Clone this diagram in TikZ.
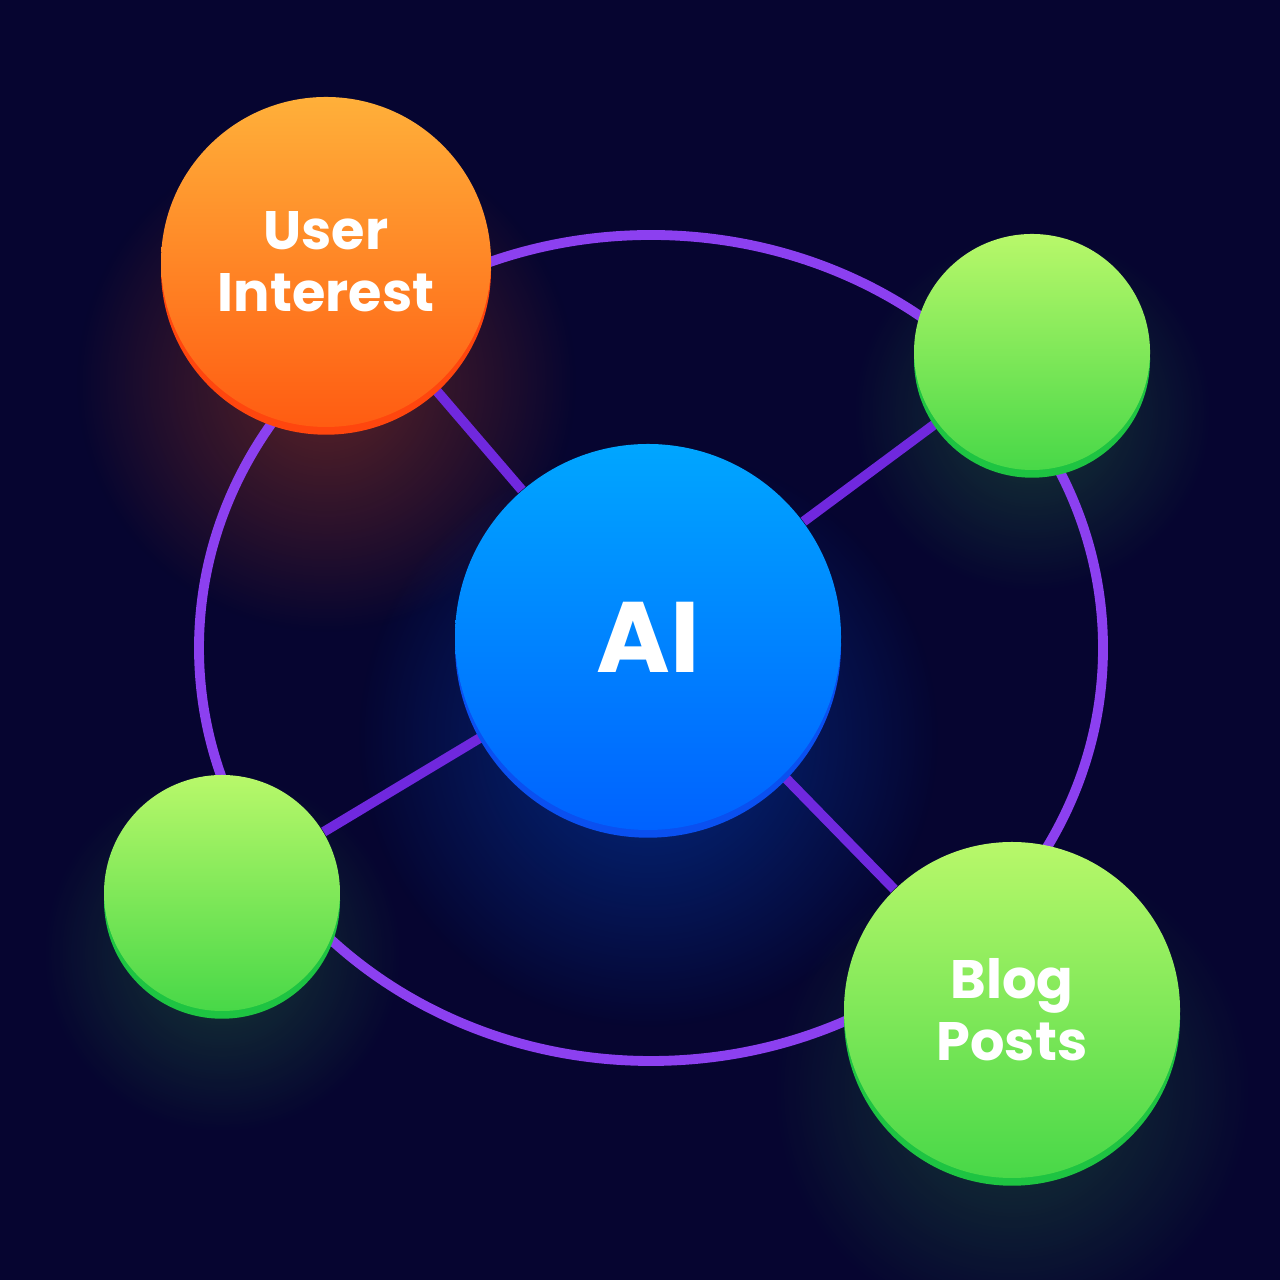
\documentclass[tikz,border=0pt]{standalone}
\usepackage{fontspec}
\setmainfont{Poppins}
\usetikzlibrary{fadings}
\tikzfading[name=softglow, inner color=transparent!0, outer color=transparent!100]
\pgfdeclarelayer{back}
\pgfdeclarelayer{links}
\pgfsetlayers{back,links,main}

\begin{document}
\begin{tikzpicture}[
    line cap=round,
    every node/.style={text=white, align=center},
    disc/.style 2 args={circle, inner sep=0pt, minimum size=#1,
        top color=#2top, bottom color=#2bot,
        preaction={fill=#2rim, transform canvas={yshift=-2.2pt}}},
    glow/.style={fill=#1, path fading=softglow, fill opacity=0.4},
    link/.style={draw=linkcol, line width=2.8pt},
    bigtext/.style={font=\fontsize{28.5}{28.5}\selectfont\bfseries},
    smalltext/.style={font=\fontsize{15.4}{17.6}\selectfont\bfseries},
]

\definecolor{bgcol}{RGB}{6,5,48}
\definecolor{ringcol}{RGB}{140,64,240}
\definecolor{linkcol}{RGB}{112,40,222}
\definecolor{AItop}{RGB}{0,166,255}
\definecolor{AIbot}{RGB}{0,98,255}
\definecolor{AIrim}{RGB}{10,80,240}
\definecolor{UItop}{RGB}{255,176,58}
\definecolor{UIbot}{RGB}{255,92,18}
\definecolor{UIrim}{RGB}{255,70,14}
\definecolor{GRtop}{RGB}{184,248,106}
\definecolor{GRbot}{RGB}{72,216,72}
\definecolor{GRrim}{RGB}{30,196,66}

% ---------- canvas ----------
\useasboundingbox (0,0) rectangle (12.8,12.8);

% ---------- discs ----------
\node[disc={3.86cm}{AI}, bigtext]    (ai)   at (6.48,6.43)  {AI};
\node[disc={3.30cm}{UI}, smalltext]  (user) at (3.26,10.18) {User\\Interest};
\node[disc={2.36cm}{GR}]             (gtr)  at (10.32,9.28) {};
\node[disc={2.36cm}{GR}]             (gbl)  at (2.22,3.87)  {};
\node[disc={3.36cm}{GR}, smalltext]  (blog) at (10.12,2.70) {Blog\\Posts};

% ---------- background and soft glows ----------
\begin{pgfonlayer}{back}
    \fill[bgcol] (0,0) rectangle (12.8,12.8);
    \fill[glow=UIbot, fill opacity=0.35] ([yshift=-1.2cm]user.center) circle (2.5);
    \fill[glow=AIbot] ([yshift=-1.0cm]ai.center) circle (2.9);
    \fill[glow=GRbot, fill opacity=0.25] ([yshift=-0.6cm]gtr.center) circle (1.8);
    \fill[glow=GRbot, fill opacity=0.25] ([yshift=-0.6cm]gbl.center) circle (1.8);
    \fill[glow=GRbot, fill opacity=0.25] ([yshift=-0.8cm]blog.center) circle (2.4);
\end{pgfonlayer}

% ---------- outer ring and spokes ----------
\begin{pgfonlayer}{links}
    \draw[ringcol, line width=2.8pt] (6.51,6.32) ellipse (4.52 and 4.13);
    \foreach \other in {user,gtr,gbl,blog}{
        \draw[link] (ai) -- (\other);
    }
\end{pgfonlayer}

\end{tikzpicture}
\end{document}
